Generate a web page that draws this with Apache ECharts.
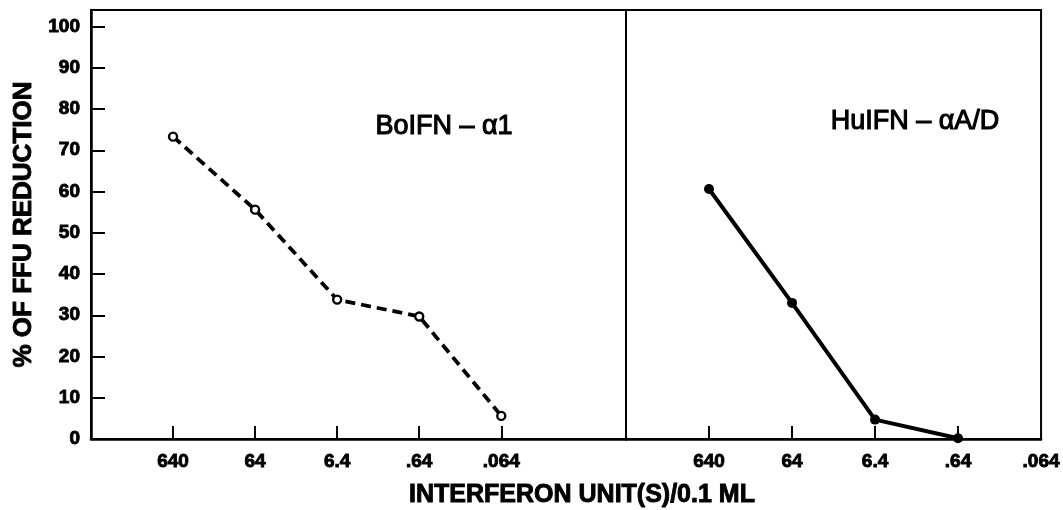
<!DOCTYPE html>
<html>
<head>
<meta charset="utf-8">
<script src="https://cdn.jsdelivr.net/npm/echarts@6/dist/echarts.min.js"></script>
<style>
  html, body { margin: 0; padding: 0; background: #fff; }
  #chart { width: 1063px; height: 510px; }
</style>
</head>
<body>
<div id="chart"></div>
<script>
// Data
const xLabels = ['640', '64', '6.4', '.64', '.064'];
const boIFN = [73.3, 55.6, 33.8, 29.7, 5.6];   // BoIFN-α1, dashed, open circles
const huIFN = [60.6, 33.0, 4.7, 0.2];          // HuIFN-αA/D, solid, filled dots
const yTicks = [0, 10, 20, 30, 40, 50, 60, 70, 80, 90, 100];
const xTicksLeft = [0, 1, 2, 3, 4];
const xTicksRight = [0, 1, 2, 3, 4];

const FONT = '"Liberation Sans", Arial, sans-serif';

const chart = echarts.init(document.getElementById('chart'), null, { renderer: 'canvas' });

const lineStyleAxis = { color: '#000', width: 2.5 };
const heavy = { textBorderColor: '#000', textBorderWidth: 0.9 };

function xAxis(gridIndex, max, tickVals, labelVals) {
  return {
    type: 'value', gridIndex, min: -1, max,
    axisLine: { show: true, onZero: false, lineStyle: lineStyleAxis },
    axisTick: { show: true, inside: true, length: 13, lineStyle: { color: '#000', width: 2 }, customValues: tickVals },
    axisLabel: Object.assign({
      show: true, customValues: labelVals, margin: 13,
      color: '#000', fontFamily: FONT, fontWeight: 'bold', fontSize: 19,
      formatter: v => xLabels[Math.round(v)] ?? ''
    }, heavy),
    splitLine: { show: false }
  };
}

const option = {
  backgroundColor: '#fff',
  animation: false,
  grid: [
    { left: 91, top: 10, width: 535, height: 429, show: true, borderColor: '#000', borderWidth: 2, containLabel: false },
    { left: 626, top: 10, width: 416, height: 429, show: true, borderColor: '#000', borderWidth: 2, containLabel: false }
  ],
  xAxis: [
    xAxis(0, 5.52, xTicksLeft, xTicksLeft),
    xAxis(1, 4, xTicksRight.slice(0, 4), xTicksRight)
  ],
  yAxis: [
    {
      type: 'value', gridIndex: 0, min: 0, max: 104,
      name: '% OF FFU REDUCTION', nameLocation: 'middle', nameGap: 52, nameRotate: 90,
      nameTextStyle: Object.assign({ color: '#000', fontFamily: FONT, fontWeight: 'bold', fontSize: 26 }, heavy),
      axisLine: { show: true, onZero: false, lineStyle: lineStyleAxis },
      axisTick: { show: true, inside: true, length: 14, lineStyle: { color: '#000', width: 2 }, customValues: yTicks.slice(1) },
      axisLabel: Object.assign({ show: true, customValues: yTicks, margin: 11, color: '#000', fontFamily: FONT, fontWeight: 'bold', fontSize: 19 }, heavy),
      splitLine: { show: false }
    },
    {
      type: 'value', gridIndex: 1, min: 0, max: 104,
      axisLine: { show: false, onZero: false }, axisTick: { show: false }, axisLabel: { show: false }, splitLine: { show: false }
    }
  ],
  series: [
    {
      type: 'line', xAxisIndex: 0, yAxisIndex: 0, clip: false,
      data: boIFN.map((v, i) => [i, v]),
      lineStyle: { color: '#000', width: 3.8, type: [10, 6] },
      symbol: 'circle', symbolSize: 8,
      itemStyle: { color: '#fff', borderColor: '#000', borderWidth: 2.4 },
      z: 5
    },
    {
      type: 'line', xAxisIndex: 1, yAxisIndex: 1, clip: false,
      data: huIFN.map((v, i) => [i, v]),
      lineStyle: { color: '#000', width: 4 },
      symbol: 'circle', symbolSize: 10,
      itemStyle: { color: '#000', borderColor: '#000', borderWidth: 0 },
      z: 5
    }
  ],
  graphic: [
    {
      type: 'text', x: 582, y: 495,
      style: { text: 'INTERFERON UNIT(S)/0.1 ML', fill: '#000', font: 'bold 25px ' + FONT, textAlign: 'center', textVerticalAlign: 'middle', stroke: '#000', lineWidth: 0.9 }
    },
    {
      type: 'text', x: 444, y: 127,
      style: { text: 'BoIFN – α1', fill: '#000', font: '27px ' + FONT, textAlign: 'center', textVerticalAlign: 'middle', stroke: '#000', lineWidth: 1.1 }
    },
    {
      type: 'text', x: 915, y: 122,
      style: { text: 'HuIFN – αA/D', fill: '#000', font: '27px ' + FONT, textAlign: 'center', textVerticalAlign: 'middle', stroke: '#000', lineWidth: 1.1 }
    }
  ]
};

chart.setOption(option);
</script>
</body>
</html>
